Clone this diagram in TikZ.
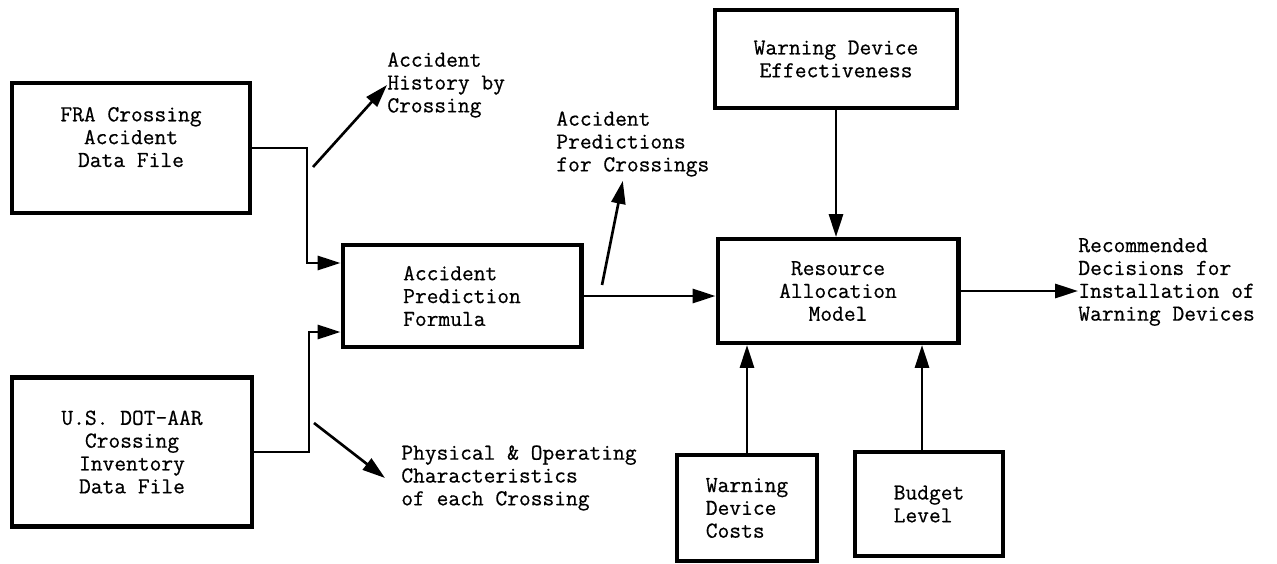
\documentclass[tikz,border=0pt]{standalone}
\usepackage{fontspec}
\setmonofont{Latin Modern Mono}[FakeBold=0.6]
\usetikzlibrary{arrows.meta,calc}

\begin{document}
\begin{tikzpicture}[x=0.02cm, y=-0.02cm,
    every node/.style={font=\ttfamily\fontsize{13}{13}\selectfont},
    block/.style={draw, line width=2.3pt, align=center, inner sep=0pt},
    note/.style={align=left, inner sep=0pt, anchor=west},
    flow/.style={line width=1.5pt, -{Triangle[length=13pt,width=8pt]}}]
                \useasboundingbox (0,0) rectangle (1277,564);

                % Data files
                \node[block, minimum width=4.76cm, minimum height=2.6cm, text depth=0.44cm] (fra) at (131,148) {FRA Crossing\\Accident\\Data File};
                \node[block, minimum width=4.8cm, minimum height=2.98cm] (dot) at (132,452) {U.S. DOT-AAR\\Crossing\\Inventory\\Data File};

                % Prediction
                \node[block, minimum width=4.78cm, minimum height=2.04cm, align=left] (apf) at (462,296) {Accident\\Prediction\\Formula};

                % Allocation model and its inputs
                \node[block, minimum width=4.82cm, minimum height=2.08cm] (ram) at (838,291) {Resource\\Allocation\\Model};
                \node[block, minimum width=4.84cm, minimum height=1.96cm] (wde) at (836,59) {Warning Device\\Effectiveness};
                \node[block, minimum width=2.8cm, minimum height=2.12cm, align=left] (wdc) at (747,508) {Warning\\Device\\Costs};
                \node[block, minimum width=2.96cm, minimum height=2.08cm, align=left] (bud) at (929,504) {Budget\\Level};

                % Outputs
                \node[note] (hist) at (387,85) {Accident\\History by\\Crossing};
                \node[note] (pred) at (556,144) {Accident\\Predictions\\for Crossings};
                \node[note] (phys) at (401,478) {Physical \& Operating\\Characteristics\\of each Crossing};
                \node[note] (rec) at (1078,282) {Recommended\\Decisions for\\Installation of\\Warning Devices};

                % Connecting lines
                \draw[flow] (fra.east) -- ++(55,0) |- ($(apf.west)+(0,-33)$);
                \draw[flow] (dot.east) -- ++(55,0) |- ($(apf.west)+(0,36)$);
                \draw[flow] (apf.east) -- (apf.east -| ram.west);
                \draw[flow] (wde.south) -- (wde.south |- ram.north);
                \draw[flow] (wdc.north) -- (wdc.north |- ram.south);
                \draw[flow] ($(bud.north)+(-7,0)$) -- ($(bud.north |- ram.south)+(-7,0)$);
                \draw[flow] (ram.east) -- (ram.east -| rec.west);

                \coordinate (histfoot) at (313,167);
                \coordinate (predfoot) at (602,285);
                \coordinate (physfoot) at (314,423);
                \draw[flow] (histfoot) -- (hist.west);
                \draw[flow] (predfoot) -- ($(pred.south)+(-10,4)$);
                \draw[flow] (physfoot) -- ($(phys.west)+(-16,0)$);
            \end{tikzpicture}
\end{document}
